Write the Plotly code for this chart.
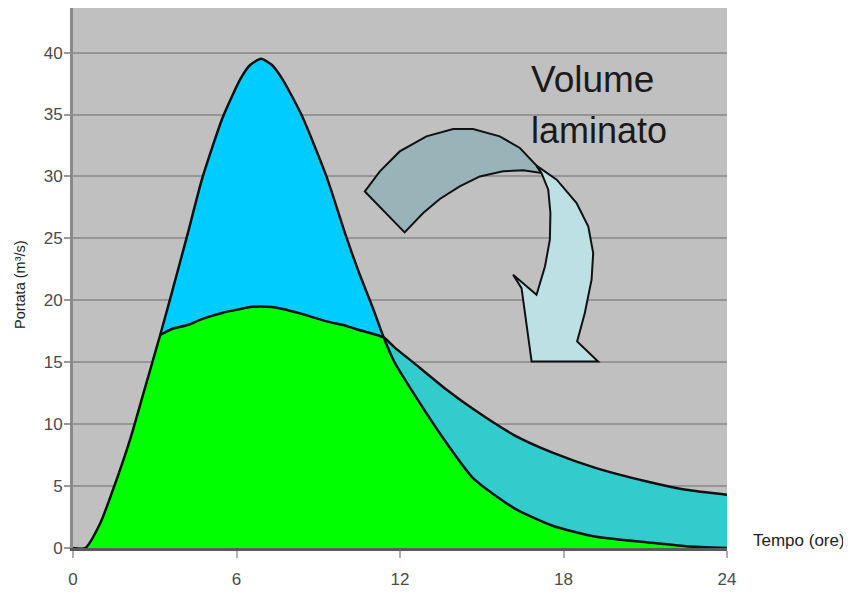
import plotly.graph_objects as go

# ---- data ----
tempo = [0, 0.45, 1.0, 1.45, 2.1, 2.6, 3.2, 3.65, 4.2, 4.75, 5.5, 6.15, 6.5, 6.9, 7.3, 7.7,
         8.4, 9.3, 10.0, 10.5, 11.0, 11.4, 11.8, 12.7, 13.7, 14.7, 16.2, 17.6, 19.2, 21.1, 22.5, 24]
portata_ingresso = [0, 0, 2.0, 4.6, 8.8, 12.6, 17.2, 20.8, 25.3, 29.9, 34.8, 37.9, 39.0, 39.5, 39.0, 37.8,
                    34.9, 30.0, 25.3, 22.2, 19.4, 17.0, 15.0, 11.8, 8.5, 5.6, 3.2, 1.8, 0.9, 0.45, 0.15, 0]
portata_uscita = [0, 0, 2.0, 4.6, 8.8, 12.6, 17.2, 17.7, 18.0, 18.5, 19.0, 19.3, 19.45, 19.5, 19.45, 19.3,
                  18.9, 18.3, 17.95, 17.6, 17.3, 17.0, 16.2, 14.6, 12.8, 11.2, 9.1, 7.7, 6.45, 5.35, 4.7, 4.3]
y_ticks = [0, 5, 10, 15, 20, 25, 30, 35, 40]
x_ticks = [0, 6, 12, 18, 24]

# indices where the outflow separates from / meets again the inflow (rising limb corner, crossing)
i_sep = tempo.index(3.2)
i_cross = tempo.index(11.4)

# arrow outline (decoration, in axis units)
freccia_scura = [(10.71, 28.79), (12.17, 25.48), (12.85, 27.05), (13.46, 28.18), (14.19, 29.2),
                 (14.93, 30.0), (15.78, 30.41), (16.52, 30.49), (17.19, 30.28), (17.01, 30.87),
                 (16.4, 32.3), (15.66, 33.24), (14.68, 33.83), (13.95, 33.83), (12.97, 33.24),
                 (11.99, 32.02), (11.26, 30.41)]
freccia_chiara = [(17.19, 30.28), (17.44, 28.93), (17.52, 27.05), (17.5, 24.89), (17.32, 22.73),
                  (17.01, 20.44), (16.15, 22.06), (16.46, 20.98), (16.83, 15.05), (19.27, 15.05),
                  (18.5, 16.67), (18.78, 18.96), (19.03, 21.66), (19.09, 23.81), (18.91, 25.96),
                  (18.48, 27.85), (17.75, 29.74), (17.01, 30.87)]


def path_of(pts):
    return "M " + " L ".join(f"{x},{y}" for x, y in pts) + " Z"


fig = go.Figure()
spl = dict(shape="spline", smoothing=0.6)
clear = dict(color="rgba(0,0,0,0)", width=0, **spl)
# outflow area (cyan) at the bottom
fig.add_trace(go.Scatter(x=tempo, y=portata_uscita, fill="tozeroy", fillcolor="#33cccc",
                         mode="lines", line=clear, hoverinfo="skip", showlegend=False))
# inflow area (green) above it
fig.add_trace(go.Scatter(x=tempo, y=portata_ingresso, fill="tozeroy", fillcolor="#00ff00",
                         mode="lines", line=clear, hoverinfo="skip", showlegend=False))
# part of the inflow peak above the outflow (blue)
sl = slice(i_sep, i_cross + 1)
fig.add_trace(go.Scatter(x=tempo[sl], y=portata_uscita[sl], mode="lines", line=clear,
                         hoverinfo="skip", showlegend=False))
fig.add_trace(go.Scatter(x=tempo[sl], y=portata_ingresso[sl], fill="tonexty", fillcolor="#00ccff",
                         mode="lines", line=clear, hoverinfo="skip", showlegend=False))
# black outlines
fig.add_trace(go.Scatter(x=tempo, y=portata_ingresso, mode="lines",
                         line=dict(color="#111111", width=2.5, **spl), showlegend=False))
fig.add_trace(go.Scatter(x=tempo[i_sep:], y=portata_uscita[i_sep:], mode="lines",
                         line=dict(color="#111111", width=2.5, **spl), showlegend=False))

fig.add_shape(type="path", path=path_of(freccia_scura), xref="x", yref="y",
              fillcolor="#98b4b9", line=dict(color="#111111", width=2), layer="above")
fig.add_shape(type="path", path=path_of(freccia_chiara), xref="x", yref="y",
              fillcolor="#bde0e4", line=dict(color="#111111", width=2), layer="above")

fig.add_annotation(text="Volume", x=16.75, y=37.85, xref="x", yref="y", xanchor="left",
                   yanchor="middle", showarrow=False,
                   font=dict(family="Liberation Sans, Arial", size=37, color="#1a1a1a"))
fig.add_annotation(text="laminato", x=16.75, y=33.7, xref="x", yref="y", xanchor="left",
                   yanchor="middle", showarrow=False,
                   font=dict(family="Liberation Sans, Arial", size=36, color="#1a1a1a"))
fig.add_annotation(text="Portata (m³/s)", x=-0.081, y=0.487, xref="paper", yref="paper",
                   xanchor="center", yanchor="middle", textangle=-90, showarrow=False,
                   font=dict(family="Liberation Sans, Arial", size=14.5, color="#222222"))
fig.add_annotation(text="Tempo (ore)", x=1.110, y=0.013, xref="paper", yref="paper",
                   xanchor="center", yanchor="middle", showarrow=False,
                   font=dict(family="Liberation Sans, Arial", size=17, color="#222222"))

# page has an 8px body margin: figure is sized/placed to compensate
fig.update_layout(
    width=843, height=589,
    margin=dict(l=65, r=124, t=0, b=49),
    paper_bgcolor="white", plot_bgcolor="#c0c0c0",
    font=dict(family="Liberation Sans, Arial", size=17, color="#4a4a4a"),
    xaxis=dict(range=[0, 24], tickvals=x_ticks, ticktext=[str(v) for v in x_ticks],
               showgrid=False, zeroline=False, showline=True, linecolor="#5a5a5a", linewidth=3,
               ticks="outside", ticklen=7, tickcolor="#b0b0b0", tickwidth=2,
               ticklabelstandoff=7, fixedrange=True),
    yaxis=dict(range=[0, 43.6], tickvals=y_ticks, ticktext=[str(v) for v in y_ticks],
               showgrid=True, gridcolor="#959595", gridwidth=2, zeroline=False,
               showline=True, linecolor="#8a8a8a", linewidth=3,
               ticks="outside", ticklen=6, tickcolor="#9a9a9a", tickwidth=2,
               ticklabelstandoff=-2, fixedrange=True),
)

fig.write_html("out.html")
